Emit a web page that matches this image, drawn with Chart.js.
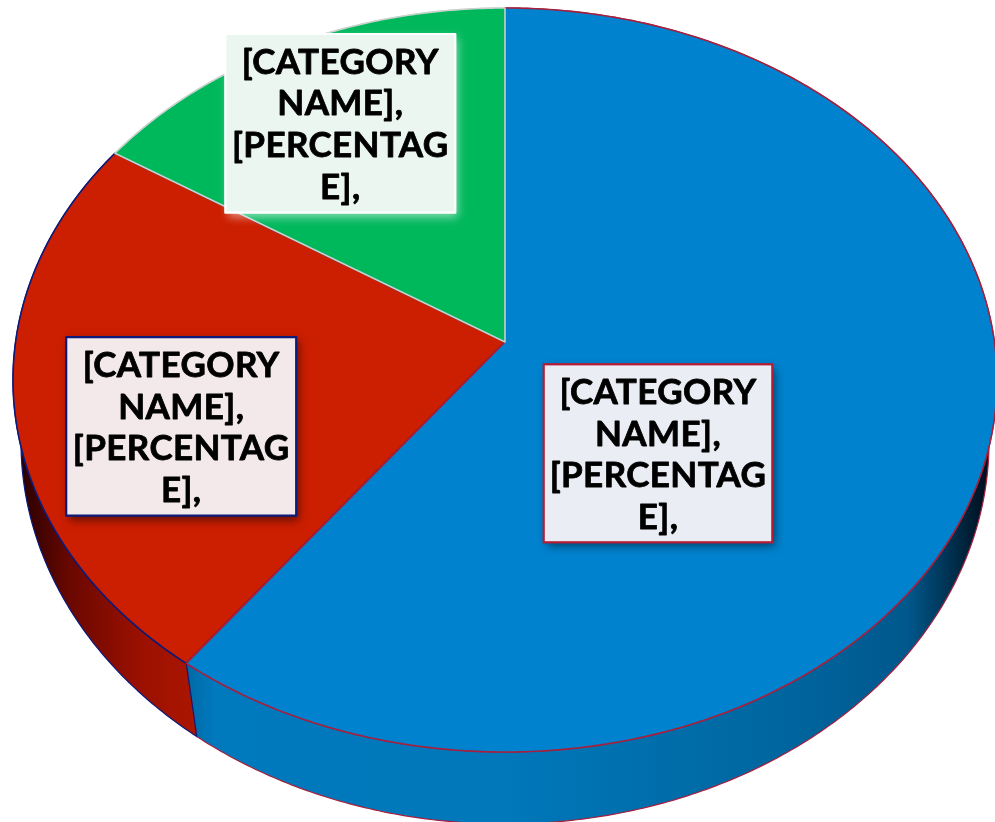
<!DOCTYPE html>
<html>
<head>
<meta charset="utf-8">
<script src="https://cdn.jsdelivr.net/npm/chart.js@4/dist/chart.umd.min.js"></script>
<style>
  html, body { margin: 0; background: #fff; overflow: hidden; }
  canvas { display: block; }
</style>
</head>
<body>
<canvas id="pie3d" width="995" height="822"></canvas>
<script>
// chart values, clockwise from 12 o'clock
const categories = ["Blue", "Red", "Green"];
const shares = [60.2, 23.9, 15.9];
const labelLines = ["[CATEGORY", "NAME],", "[PERCENTAG", "E],"];

const faceColors = ["#0082ce", "#cc1e00", "#00b85c"];
const edgeColors = ["#a3213f", "#0c1a7a", "#c9d3cd"];
const wallStops = [
  [[0, "#00101f"], [0.2, "#0079bd"], [0.5, "#0078ba"], [0.8, "#00659e"], [0.92, "#00588c"], [1, "#00101f"]],
  [[0, "#2a0000"], [0.05, "#6a0800"], [0.12, "#9a1000"], [0.2, "#b01800"]],
  [[0, "#008a45"], [1, "#008a45"]],
];
const boxes = [
  { x: 543.7, y: 364.3, w: 228.6, h: 178, fill: "#eaedf3", line: "#b81c34", shadow: "rgba(0,0,0,.55)" },
  { x: 66.2, y: 337.2, w: 230, h: 178.5, fill: "#f3e9ea", line: "#0c1a7a", shadow: "rgba(0,0,0,.55)" },
  { x: 225.3, y: 34, w: 230, h: 178.7, fill: "#ecf6f1", line: "#ffffff", shadow: "rgba(255,255,255,.55)" },
];

// top disc and lower rim of the tilted pie, tilt moves the pie centre up
// inside the ellipse like the perspective does
const topRim = { x: 505, y: 380, rx: 492, ry: 372, tilt: -0.102 };
const lowRim = { x: 505, y: 442, rx: 484, ry: 382, tilt: -0.08 };

function rimPoint(rim, angle) {
  const cx = Math.cos(angle);
  const cy = Math.sin(angle);
  const d = 1 + rim.tilt * cy;
  return {
    x: rim.x + rim.rx * (cx * Math.sqrt(1 - rim.tilt * rim.tilt)) / d,
    y: rim.y + rim.ry * (cy + rim.tilt) / d,
  };
}

function rimPath(ctx, rim, from, to) {
  const steps = Math.ceil(Math.abs(to - from) / 0.01);
  for (let i = 0; i <= steps; i++) {
    const p = rimPoint(rim, from + (to - from) * i / steps);
    ctx.lineTo(p.x, p.y);
  }
}

const tiltedPie = {
  id: "tiltedPie",
  beforeDatasetsDraw(chart) {
    const ctx = chart.ctx;
    const arcs = chart.getDatasetMeta(0).data;
    ctx.save();
    ctx.lineJoin = "round";

    // side walls first, the top face covers whatever is behind it
    arcs.forEach((arc, i) => {
      const { startAngle, endAngle } = arc.getProps(["startAngle", "endAngle"], true);
      const grad = ctx.createLinearGradient(22, 0, 985, 0);
      const stops = wallStops[i];
      stops.forEach(s => grad.addColorStop(s[0], s[1]));
      ctx.beginPath();
      rimPath(ctx, topRim, startAngle, endAngle);
      rimPath(ctx, lowRim, endAngle, startAngle);
      ctx.closePath();
      ctx.fillStyle = grad;
      ctx.fill();
      ctx.strokeStyle = edgeColors[i];
      ctx.lineWidth = 1.2;
      ctx.stroke();
    });

    // red goes under blue and green, so their edges win on the shared spokes
    const apex = { x: topRim.x, y: topRim.y + topRim.ry * topRim.tilt };
    [1, 0, 2].forEach(i => {
      const { startAngle, endAngle } = arcs[i].getProps(["startAngle", "endAngle"], true);
      ctx.beginPath();
      ctx.moveTo(apex.x, apex.y);
      rimPath(ctx, topRim, startAngle, endAngle);
      ctx.closePath();
      ctx.fillStyle = faceColors[i];
      ctx.fill();
      ctx.strokeStyle = edgeColors[i];
      ctx.lineWidth = 1.6;
      ctx.stroke();
    });
    ctx.restore();
    return false;
  },
  afterDraw(chart) {
    const ctx = chart.ctx;
    boxes.forEach(b => {
      ctx.save();
      ctx.shadowColor = b.shadow;
      ctx.shadowBlur = 9;
      ctx.shadowOffsetX = 3;
      ctx.shadowOffsetY = 4;
      ctx.fillStyle = b.fill;
      ctx.fillRect(b.x, b.y, b.w, b.h);
      ctx.restore();
      ctx.strokeStyle = b.line;
      ctx.lineWidth = 2.2;
      ctx.strokeRect(b.x, b.y, b.w, b.h);

      // Lato bold is a bit light next to the original, so thicken it
      ctx.fillStyle = "#000";
      ctx.strokeStyle = "#000";
      ctx.lineWidth = 0.8;
      ctx.lineJoin = "round";
      ctx.font = "bold 35px Lato, 'Open Sans', sans-serif";
      ctx.letterSpacing = "0.4px";
      ctx.textAlign = "center";
      ctx.textBaseline = "alphabetic";
      labelLines.forEach((line, n) => {
        const tx = b.x + b.w / 2;
        const ty = b.y + 39.6 + n * 41.7;
        ctx.fillText(line, tx, ty);
        ctx.strokeText(line, tx, ty);
      });
    });
  },
};

new Chart(document.getElementById("pie3d"), {
  type: "pie",
  data: {
    labels: categories,
    datasets: [{ data: shares, backgroundColor: faceColors, borderColor: edgeColors }],
  },
  options: {
    responsive: false,
    animation: false,
    events: [],
    plugins: { legend: { display: false }, tooltip: { enabled: false } },
  },
  plugins: [tiltedPie],
});
</script>
</body>
</html>
